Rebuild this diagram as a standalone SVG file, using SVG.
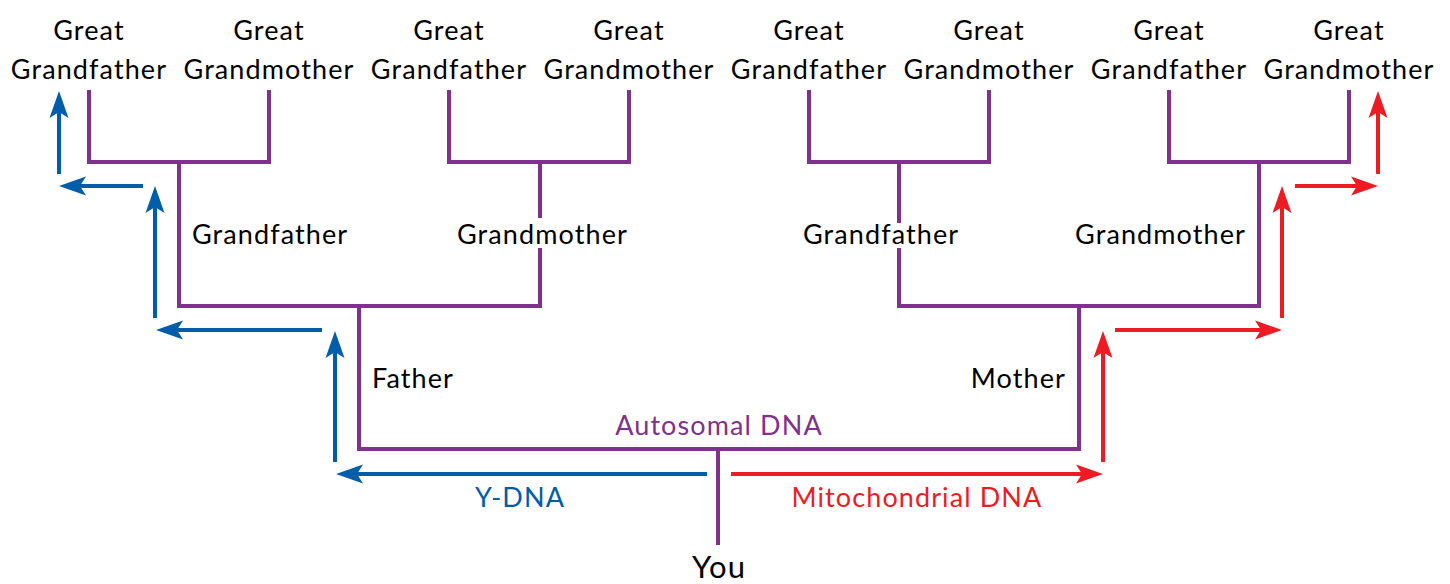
<svg xmlns="http://www.w3.org/2000/svg" width="1450" height="584" viewBox="0 0 1450 584">
  <style>
    text { font-family: Lato, "Open Sans", "Liberation Sans", sans-serif; font-size: 27px; fill: #000; letter-spacing: 1.1px; }
    .c { text-anchor: middle; }
    .e { text-anchor: end; }
    .tree { fill: none; stroke: #80308F; stroke-width: 4; stroke-linejoin: miter; }
    .y { fill: none; stroke: #005DAA; stroke-width: 4; marker-end: url(#ab); }
    .m { fill: none; stroke: #ED1C24; stroke-width: 4; marker-end: url(#ar); }
  </style>
  <defs>
    <marker id="ab" markerUnits="userSpaceOnUse" orient="auto" refX="0" refY="0" markerWidth="30" markerHeight="20" overflow="visible">
      <path d="M12,0 L-15,-9.5 L-9,0 L-15,9.5 Z" fill="#005DAA"/>
    </marker>
    <marker id="ar" markerUnits="userSpaceOnUse" orient="auto" refX="0" refY="0" markerWidth="30" markerHeight="20" overflow="visible">
      <path d="M12,0 L-15,-9.5 L-9,0 L-15,9.5 Z" fill="#ED1C24"/>
    </marker>
  </defs>
  <rect width="1450" height="584" fill="#fff"/>

  <g id="connectors">
    <g id="autosomal">
      <path class="tree" d="M89,90 V162 H269 V90"/>
      <path class="tree" d="M449,90 V162 H629 V90"/>
      <path class="tree" d="M809,90 V162 H989 V90"/>
      <path class="tree" d="M1169,90 V162 H1349 V90"/>
      <path class="tree" d="M179,162 V306 H540 V248"/>
      <path class="tree" d="M540,162 V218"/>
      <path class="tree" d="M899,162 V223"/>
      <path class="tree" d="M899,248 V306 H1259 V162"/>
      <path class="tree" d="M359,306 V449 H1079 V306"/>
      <path class="tree" d="M718,449 V545"/>
    </g>
    <g id="ydna">
      <path class="y" d="M707,474 H348"/>
      <path class="y" d="M335,462 V343"/>
      <path class="y" d="M322,330 H168"/>
      <path class="y" d="M155,318 V198"/>
      <path class="y" d="M143,186 H71"/>
      <path class="y" d="M59,174 V103"/>
    </g>
    <g id="mtdna">
      <path class="m" d="M731,474 H1091"/>
      <path class="m" d="M1103,462 V343"/>
      <path class="m" d="M1115,330 H1270"/>
      <path class="m" d="M1282,318 V198"/>
      <path class="m" d="M1295,186 H1366"/>
      <path class="m" d="M1378,174 V103"/>
    </g>
  </g>

  <g id="gg1"><text class="c" x="89" y="40">Great</text><text class="c" x="89" y="79">Grandfather</text></g>
  <g id="gg2"><text class="c" x="269" y="40">Great</text><text class="c" x="269" y="79">Grandmother</text></g>
  <g id="gg3"><text class="c" x="449" y="40">Great</text><text class="c" x="449" y="79">Grandfather</text></g>
  <g id="gg4"><text class="c" x="629" y="40">Great</text><text class="c" x="629" y="79">Grandmother</text></g>
  <g id="gg5"><text class="c" x="809" y="40">Great</text><text class="c" x="809" y="79">Grandfather</text></g>
  <g id="gg6"><text class="c" x="989" y="40">Great</text><text class="c" x="989" y="79">Grandmother</text></g>
  <g id="gg7"><text class="c" x="1169" y="40">Great</text><text class="c" x="1169" y="79">Grandfather</text></g>
  <g id="gg8"><text class="c" x="1349" y="40">Great</text><text class="c" x="1349" y="79">Grandmother</text></g>

  <g id="g1"><text x="192" y="244">Grandfather</text></g>
  <g id="g2"><text x="457" y="244">Grandmother</text></g>
  <g id="g3"><text x="803" y="244">Grandfather</text></g>
  <g id="g4"><text class="e" x="1246" y="244">Grandmother</text></g>

  <g id="father"><text x="372" y="388">Father</text></g>
  <g id="mother"><text class="e" x="1066" y="388">Mother</text></g>

  <g id="labels">
    <text class="c" x="719" y="435" style="fill:#80308F">Autosomal DNA</text>
    <text class="c" x="520" y="507" style="fill:#005DAA">Y-DNA</text>
    <text class="c" x="917" y="507" style="fill:#ED1C24">Mitochondrial DNA</text>
  </g>

  <g id="you"><text class="c" x="719" y="578" style="font-size:31px">You</text></g>
</svg>
